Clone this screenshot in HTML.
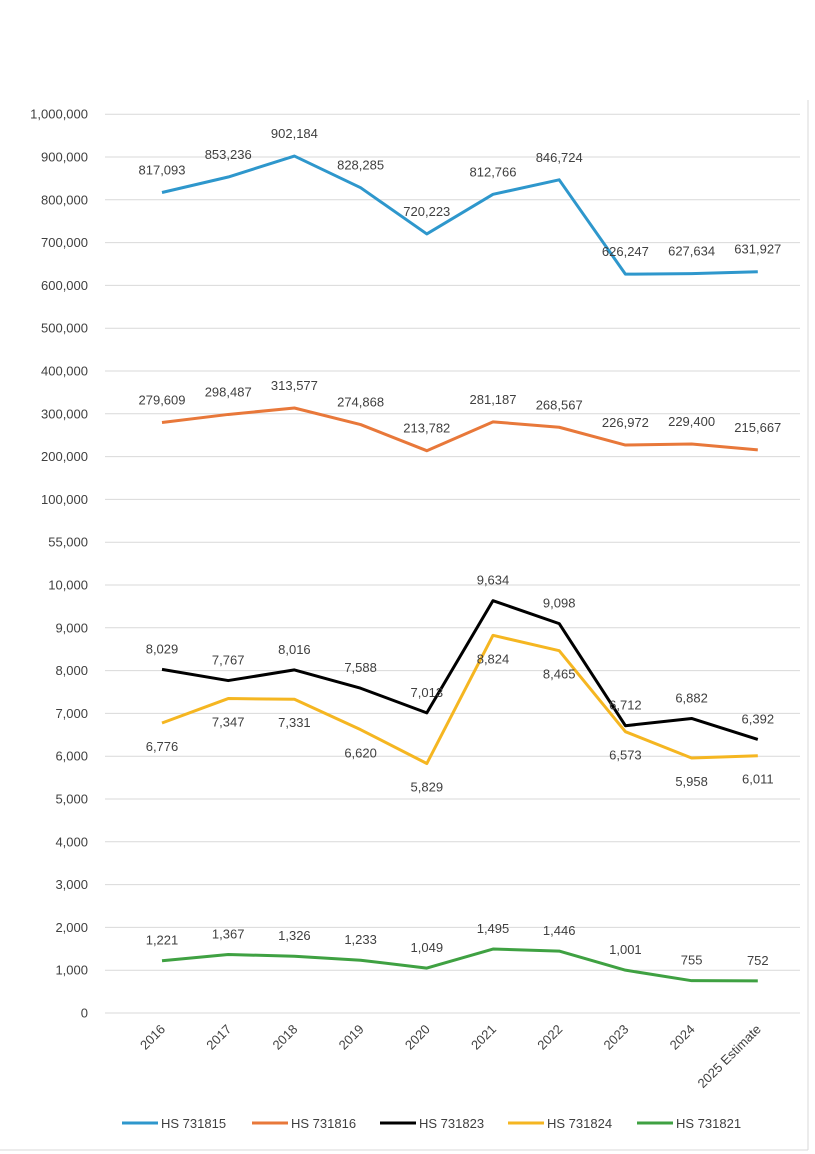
<!DOCTYPE html>
<html><head><meta charset="utf-8"><style>
body{margin:0;background:#fff;}
svg{display:block;font-family:"Liberation Sans",sans-serif;}
</style></head><body>
<svg id="c" width="815" height="1154">
<line x1="808" y1="100" x2="808" y2="1150" stroke="#d9d9d9"/>
<line x1="0" y1="1150" x2="808" y2="1150" stroke="#d9d9d9"/>
</svg>
<script>
const years=["2016","2017","2018","2019","2020","2021","2022","2023","2024","2025 Estimate"];
const tickLabels=["0","1,000","2,000","3,000","4,000","5,000","6,000","7,000","8,000","9,000","10,000","55,000","100,000","200,000","300,000","400,000","500,000","600,000","700,000","800,000","900,000","1,000,000"];
const hs731815=[817093,853236,902184,828285,720223,812766,846724,626247,627634,631927];
const hs731816=[279609,298487,313577,274868,213782,281187,268567,226972,229400,215667];
const hs731823=[8029,7767,8016,7588,7013,9634,9098,6712,6882,6392];
const hs731824=[6776,7347,7331,6620,5829,8824,8465,6573,5958,6011];
const hs731821=[1221,1367,1326,1233,1049,1495,1446,1001,755,752];
const seriesNames=["HS 731815","HS 731816","HS 731823","HS 731824","HS 731821"];
const colors=["#2e97cc","#e8783a","#000000","#f5b621","#3fa142"];
const NS="http://www.w3.org/2000/svg";
const svg=document.getElementById('c');
const y0=1013,step=42.8,x0=162,xs=66.2;
function idx(v){if(v<=10000)return v/1000;if(v<=100000)return 10+(v-10000)/90000*2;return 11+v/100000;}
function Y(v){return y0-idx(v)*step;}
function X(i){return x0+i*xs;}
function mk(t,a,txt){const e=document.createElementNS(NS,t);for(const k in a)e.setAttribute(k,a[k]);if(txt!==undefined)e.textContent=txt;svg.appendChild(e);return e;}
tickLabels.forEach((l,i)=>{
 const y=y0-i*step;
 const g=mk('line',{x1:105,x2:800,y1:y,y2:y,stroke:"#d9d9d9"});
 
 
 const t=mk('text',{x:88,y:y+4.5,'text-anchor':'end','font-size':13,fill:'#404040'},l);
 
 
});
years.forEach((l,i)=>{
 const t=mk('text',{x:X(i)+4,y:1030,'text-anchor':'end','font-size':13,fill:'#404040',transform:`rotate(-45 ${X(i)+4} 1030)`},l);
 
 
});
const all=[hs731815,hs731816,hs731823,hs731824,hs731821];
const offs=[-22,-22,-20,24,-20];
all.forEach((s,k)=>{
 const p=mk('polyline',{points:s.map((v,i)=>X(i)+','+Y(v)).join(' '),fill:'none',stroke:colors[k],'stroke-width':3,'stroke-linejoin':'round'});
 
 
 s.forEach((v,i)=>{
  const t=mk('text',{x:X(i),y:Y(v)+offs[k]+4,'text-anchor':'middle','font-size':13,fill:'#404040'},v.toLocaleString('en-US'));
  
  
 });
});
const lx=[122,252,380,508,637];
seriesNames.forEach((n,k)=>{
 const l=mk('line',{x1:lx[k],x2:lx[k]+36,y1:1123,y2:1123,stroke:colors[k],'stroke-width':3});
 
 
 const t=mk('text',{x:lx[k]+39,y:1128,'font-size':13,fill:'#404040'},n);
 
 
});
</script>
</body></html>
